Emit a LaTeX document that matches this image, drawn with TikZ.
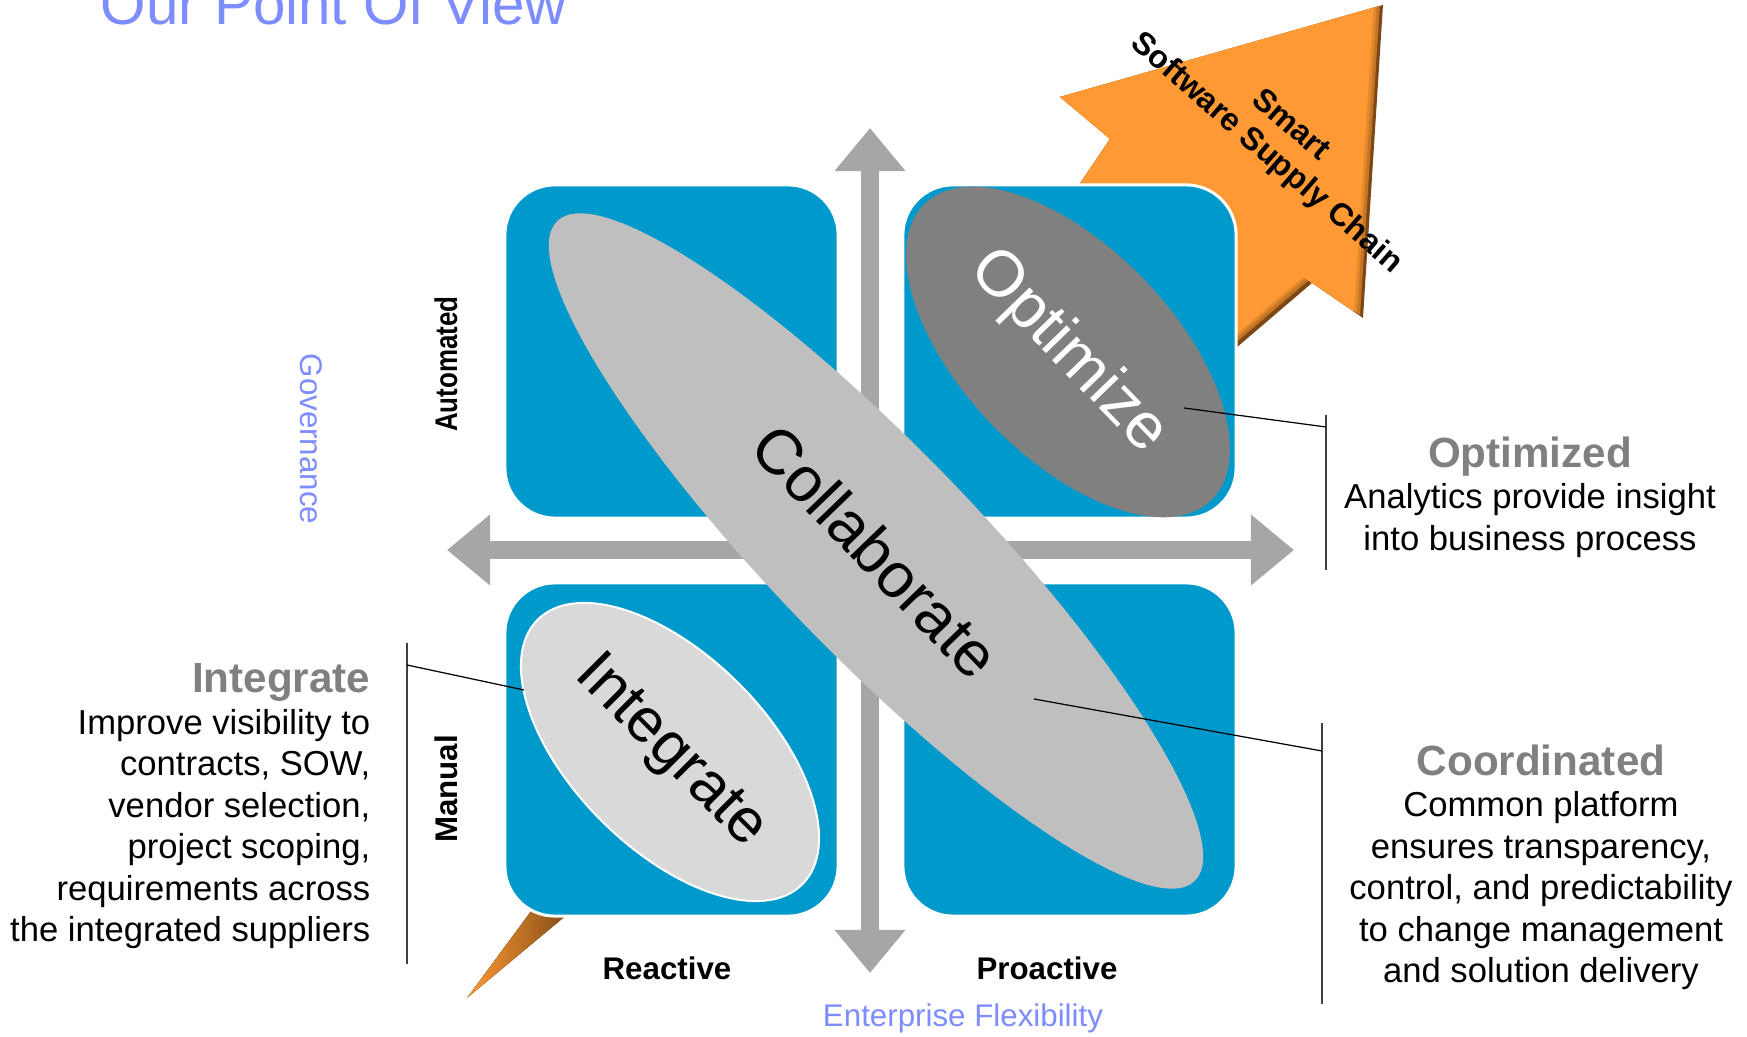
\documentclass[tikz,border=0pt]{standalone}
\usepackage{fontspec}
\setmainfont{Liberation Sans}
\usepackage{xcolor}
\usetikzlibrary{shapes.geometric, arrows.meta, positioning}
\definecolor{quadblue}{RGB}{0, 153, 204}
\definecolor{axisgray}{RGB}{166, 166, 166}
\definecolor{collabgray}{RGB}{191, 191, 191}
\definecolor{optgray}{RGB}{128, 128, 128}
\definecolor{intgray}{RGB}{217, 217, 217}
\definecolor{headgray}{RGB}{128, 128, 128}
\definecolor{povblue}{RGB}{125, 140, 255}
\definecolor{arroworange}{RGB}{255, 153, 51}
\definecolor{arrowbrown}{RGB}{125, 72, 22}
\newcommand{\quadhead}[1]{{\fontsize{12pt}{11.8pt}\selectfont\bfseries\color{headgray}#1}}
\newcommand{\sscoutline}{(1383,5) -- (1363,318) -- (1312,283) -- (1180,396) -- (1060,213) -- (1110,139) -- (1060,97) -- cycle}

\begin{document}
\begin{tikzpicture}[
    x=0.01cm, y=-0.01cm,
    quad/.style={rectangle, rounded corners=0.5cm, fill=quadblue, draw=white, line width=0.03cm, minimum width=3.33cm, minimum height=3.33cm, inner sep=0},
    blob/.style={ellipse, inner sep=0, rotate=-46},
    axis/.style={draw=axisgray, line width=0.18cm, {Triangle[width=0.68cm, length=0.43cm]}-{Triangle[width=0.68cm, length=0.43cm]}},
    lead/.style={draw=black, line width=0.35pt},
    bar/.style={draw=black!75, line width=0.5pt},
    side/.style={font=\fontsize{8.9pt}{10.7pt}\selectfont\bfseries},
    theme/.style={font=\fontsize{8.9pt}{10.7pt}\selectfont, text=povblue},
    note/.style={font=\fontsize{9.85pt}{11.8pt}\selectfont, inner sep=0}
]
    \useasboundingbox (0,0) rectangle (1747,1037);

    % smart software supply chain arrow, behind the quadrants
    \fill[arrowbrown] \sscoutline;
    \begin{scope}
        \clip \sscoutline;
        \fill[arroworange!55!arrowbrown, shift={(-3,-3)}] \sscoutline;
        \fill[arroworange!80!arrowbrown, shift={(-6,-5)}] \sscoutline;
        \fill[arroworange, shift={(-9,-6)}] \sscoutline;
    \end{scope}
    \fill[left color=arroworange, right color=arrowbrown] (467,998) -- (543,895) -- (575,908) -- cycle;

    % quadrants
    \node[quad] (autoreact) at (671.5,351.5) {};
    \node[quad] (autoproact) at (1069.5,351.5) {};
    \node[quad] (manreact) at (671.5,749.5) {};
    \node[quad] (manproact) at (1069.5,749.5) {};

    % axes
    \coordinate (axtop) at (870,128);
    \coordinate (axbot) at (870,973);
    \coordinate (axleft) at (447,550);
    \coordinate (axright) at (1294,550);
    \draw[axis] (axbot) -- (axtop);
    \draw[axis] (axleft) -- (axright);

    % stages
    \node[blob, fill=collabgray, minimum width=9.17cm, minimum height=2.05cm, font=\fontsize{18pt}{20pt}\selectfont] (collab) at (876,551) {Collaborate};
    \node[blob, rotate=1, fill=intgray, draw=white, line width=0.02cm, minimum width=3.74cm, minimum height=1.94cm, font=\fontsize{17.6pt}{20pt}\selectfont] (integ) at (670,752) {Integrate};
    \node[blob, fill=optgray, text=white, minimum width=4.12cm, minimum height=2.1cm, font=\fontsize{18.4pt}{20pt}\selectfont] (optim) at (1068,352) {Optimize};

    % callouts
    \coordinate (intbar) at (407,665);
    \coordinate (intedge) at (524,690);
    \coordinate (optbar) at (1326,427);
    \coordinate (optin) at (1184,408);
    \coordinate (colbar) at (1322,751);
    \coordinate (colin) at (1034,699);
    \draw[bar] (407,643) -- (407,964);
    \draw[bar] (1326,415) -- (1326,570);
    \draw[bar] (1322,723) -- (1322,1004);
    \draw[lead] (intbar) -- (intedge);
    \draw[lead] (optin) -- (optbar);
    \draw[lead] (colin) -- (colbar);

    \node[note, anchor=north east, align=right] (intnote) at (371,663) {\quadhead{Integrate}\\Improve visibility to\\contracts, SOW,\\vendor selection,\\project scoping,\\requirements across\\the integrated suppliers};
    \node[note, anchor=north, align=center] (optnote) at (1530,436) {\quadhead{Optimized}\\Analytics provide insight\\into business process};
    \node[note, anchor=north, align=center] (colnote) at (1541,744) {\quadhead{Coordinated}\\Common platform\\ensures transparency,\\control, and predictability\\to change management\\and solution delivery};

    % axis labels
    \node[side, rotate=90] (automated) at (446,364) {\scalebox{0.83}[1]{Automated}};
    \node[side, rotate=90] (manual) at (446,789) {Manual};
    \node[side, anchor=base] (reactive) at (667,980) {Reactive};
    \node[side, anchor=base] (proactive) at (1047,980) {Proactive};
    \node[theme, rotate=-90] (governance) at (311,439) {Governance};
    \node[theme, anchor=base] (flexibility) at (963,1027) {Enterprise Flexibility};
    \node[font=\fontsize{9.1pt}{10.5pt}\selectfont\bfseries, align=center, rotate=-41] (ssc) at (1278,140) {Smart\\Software Supply Chain};

    \node[anchor=base west, inner sep=0, text=povblue, font=\fontsize{16.6pt}{20pt}\selectfont] (title) at (100,25) {Our Point Of View};
\end{tikzpicture}
\end{document}
